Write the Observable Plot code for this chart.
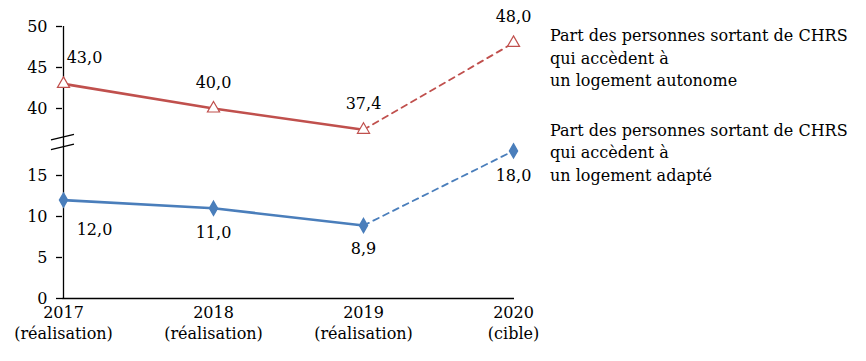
<!DOCTYPE html>
<html><head><meta charset="utf-8">
<script src="https://cdn.jsdelivr.net/npm/d3@7"></script>
<script src="https://cdn.jsdelivr.net/npm/@observablehq/plot@0.6"></script>
<style>
body{margin:0;background:#fff;}
#wrap{position:relative;width:866px;height:361px;font-family:"DejaVu Serif",serif;}
#legend{position:absolute;left:550px;top:25px;font-size:16px;line-height:22.5px;color:#000;white-space:pre;}
#legend div{margin-bottom:27px;}
</style></head><body><div id="wrap"><div id="chart"></div><div id="legend"></div></div>
<script>
const years = ["2017","2018","2019","2020"];
const yearNotes = ["(réalisation)","(réalisation)","(réalisation)","(cible)"];
const autonome = [43.0, 40.0, 37.4, 48.0];
const adapte = [12.0, 11.0, 8.9, 18.0];
const seriesNames = [
  "Part des personnes sortant de CHRS\nqui accèdent à\nun logement autonome",
  "Part des personnes sortant de CHRS\nqui accèdent à\nun logement adapté"
];
const yTickValues = [0, 5, 10, 15, 40, 45, 50];

// broken axis: upper part shifted down
const OFF = 16.83;
const disp = v => v >= 30 ? v - OFF : v;
const RED = "#c0504d", BLUE = "#4a7ebb";
const fmt = v => v.toFixed(1).replace(".", ",");

const rows = (vals, s) => vals.map((v, i) => ({year: years[i], value: v, y: disp(v), s, label: fmt(v), i}));
const red = rows(autonome, "a");
const blue = rows(adapte, "b");
const solid = d => d.filter(r => r.i <= 2);
const dashed = d => d.filter(r => r.i >= 2);

const font = '"DejaVu Serif", serif';
const chart = Plot.plot({
  width: 866, height: 361,
  marginLeft: 62, marginRight: 352, marginTop: 26, marginBottom: 63,
  style: {fontFamily: font, fontSize: "16px", color: "#000", background: "#fff"},
  x: {type: "point", domain: years, padding: 0},
  y: {domain: [0, disp(50)]},
  marks: [
    Plot.ruleY([0], {stroke: "#000", strokeWidth: 1.3}),
    Plot.ruleX(["2017"], {y1: 0, y2: disp(50), stroke: "#000", strokeWidth: 1.3}),
    Plot.axisY({ticks: yTickValues.map(disp), tickFormat: (d, i) => String(yTickValues[i]), tickSize: 6, tickPadding: 9, stroke: "#000", strokeWidth: 1.3, label: null, fontSize: 16}),
    Plot.axisX({tickSize: 0, tickPadding: 5, tickFormat: (d) => d + "\n" + yearNotes[years.indexOf(d)], label: null, fontSize: 16, lineHeight: 1.3}),
    Plot.line(solid(red), {x: "year", y: "y", stroke: RED, strokeWidth: 2.6}),
    Plot.line(dashed(red), {x: "year", y: "y", stroke: RED, strokeWidth: 1.8, strokeDasharray: "6,5"}),
    Plot.line(solid(blue), {x: "year", y: "y", stroke: BLUE, strokeWidth: 2.6}),
    Plot.line(dashed(blue), {x: "year", y: "y", stroke: BLUE, strokeWidth: 1.8, strokeDasharray: "6,5"}),
    Plot.dot(red, {x: "year", y: "y", symbol: "triangle", r: 4.5, fill: "#fff", stroke: RED, strokeWidth: 1.2}),
    Plot.dot(blue, {x: "year", y: "y", symbol: "diamond", r: 4.2, fill: BLUE, stroke: BLUE}),
    Plot.text(red.filter(d => d.i === 0), {x: "year", y: "y", text: "label", dx: 21, dy: -26, fill: "#000"}),
    Plot.text(red.filter(d => d.i > 0), {x: "year", y: "y", text: "label", dy: -26, fill: "#000"}),
    Plot.text(blue.filter(d => d.i === 0), {x: "year", y: "y", text: "label", dx: 31, dy: 30, fill: "#000"}),
    Plot.text(blue.filter(d => d.i === 1), {x: "year", y: "y", text: "label", dy: 25, fill: "#000"}),
    Plot.text(blue.filter(d => d.i === 2), {x: "year", y: "y", text: "label", dy: 23, fill: "#000"}),
    Plot.text(blue.filter(d => d.i === 3), {x: "year", y: "y", text: "label", dy: 25, fill: "#000"})
  ]
});
document.getElementById("chart").appendChild(chart);

// axis break marks positioned from the scales
const sx = chart.scale("x").apply("2017");
const sy = chart.scale("y");
const svg = d3.select(chart);
[19.9, 18.7].forEach(v => {
  const yc = sy.apply(v);
  svg.append("line").attr("x1", sx - 12).attr("y1", yc + 5).attr("x2", sx + 11).attr("y2", yc - 0.5)
    .attr("stroke", "#000").attr("stroke-width", 1.4);
});

const leg = document.getElementById("legend");
seriesNames.forEach(n => { const d = document.createElement("div"); d.textContent = n; leg.appendChild(d); });
</script></body></html>
